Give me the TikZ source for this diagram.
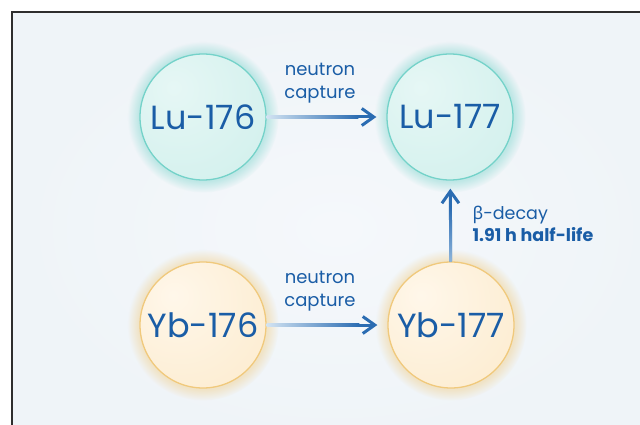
\documentclass[tikz,border=0pt]{standalone}
\usepackage{fontspec}
\setmainfont{Poppins}
\newfontfamily\greekfont{Noto Sans}
\usetikzlibrary{arrows.meta,positioning,shadows,fadings,calc}
\definecolor{panelbg}{HTML}{EFF4F8}
\definecolor{panelmid}{HTML}{F5F8FB}
\definecolor{framegray}{HTML}{2E2E2E}
\definecolor{labelblue}{HTML}{1A5DA6}
\definecolor{arrowblue}{HTML}{2B6CB2}
\definecolor{arrowlight}{HTML}{D2E3F2}
\definecolor{arrowmid}{HTML}{8DB4DA}
\definecolor{luedge}{HTML}{74D2C9}
\definecolor{lufill}{HTML}{C9EDE9}
\definecolor{luinner}{HTML}{E6F7F5}
\definecolor{ybedge}{HTML}{F0C97C}
\definecolor{ybfill}{HTML}{FBE7C4}
\definecolor{ybinner}{HTML}{FFF7EA}
\pgfdeclareradialshading{lushade}{\pgfpoint{-12bp}{12bp}}{color(0bp)=(luinner); color(30bp)=(luinner!50!lufill); color(62bp)=(lufill); color(100bp)=(lufill)}
\pgfdeclareradialshading{ybshade}{\pgfpoint{-12bp}{12bp}}{color(0bp)=(ybinner); color(30bp)=(ybinner!50!ybfill); color(62bp)=(ybfill); color(100bp)=(ybfill)}

\begin{document}
\begin{tikzpicture}[x=1pt,y=-1pt,
    nuclide/.style={circle,minimum size=126pt,inner sep=0pt,line width=1.3pt,font=\fontsize{33.5}{38}\selectfont,text=labelblue},
    lu/.style={nuclide,draw=luedge,shading=lushade,circular glow={fill=luedge,opacity=0.4,shadow scale=1.2}},
    yb/.style={nuclide,draw=ybedge,shading=ybshade,circular glow={fill=ybedge,opacity=0.4,shadow scale=1.2}},
    flow/.style={draw=arrowblue,line width=3pt,-{Straight Barb[length=12pt,width=17pt]},shorten >=10pt},
    caption/.style={font=\fontsize{18}{22.5}\selectfont,text=labelblue,align=center}
  ]
    \useasboundingbox (0,0) rectangle (640,425);
    \clip (0,0) rectangle (640,425);

    % Panel
    \shade[inner color=panelmid,outer color=panelbg] (12,12) rectangle (660,445);
    \draw[framegray,line width=1.6pt] (12,445) -- (12,12) -- (660,12);

    % Nuclides
    \node[lu] (lu176) at (203,117) {Lu-176};
    \node[lu] (lu177) at (450,117) {Lu-177};
    \node[yb] (yb176) at (203,325) {Yb-176};
    \node[yb] (yb177) at (451,325) {Yb-177};

    % Neutron capture
    \draw[flow] (lu176) -- (lu177);
    \shade[left color=arrowlight,right color=arrowblue] ($(lu176.east)+(0,-1.5)$) rectangle ($(lu177.west)+(-28,1.5)$);
    \node[caption] at (320,83) {neutron\\capture};

    \draw[flow] (yb176) -- (yb177);
    \shade[left color=arrowlight,right color=arrowblue] ($(yb176.east)+(0,-1.5)$) rectangle ($(yb177.west)+(-28,1.5)$);
    \node[caption] at (320,291) {neutron\\capture};

    % Beta decay
    \draw[flow,shorten >=8pt] (yb177) -- (lu177);
    \shade[bottom color=arrowmid,top color=arrowblue] ($(yb177.north)+(-1.5,0)$) rectangle ($(lu177.south)+(1.5,26)$);
    \node[caption,anchor=west,align=left,font=\fontsize{17.5}{22.5}\selectfont] at (469,224) {{\greekfont β}-decay\\\textbf{1.91 h half-life}};
  \end{tikzpicture}
\end{document}
